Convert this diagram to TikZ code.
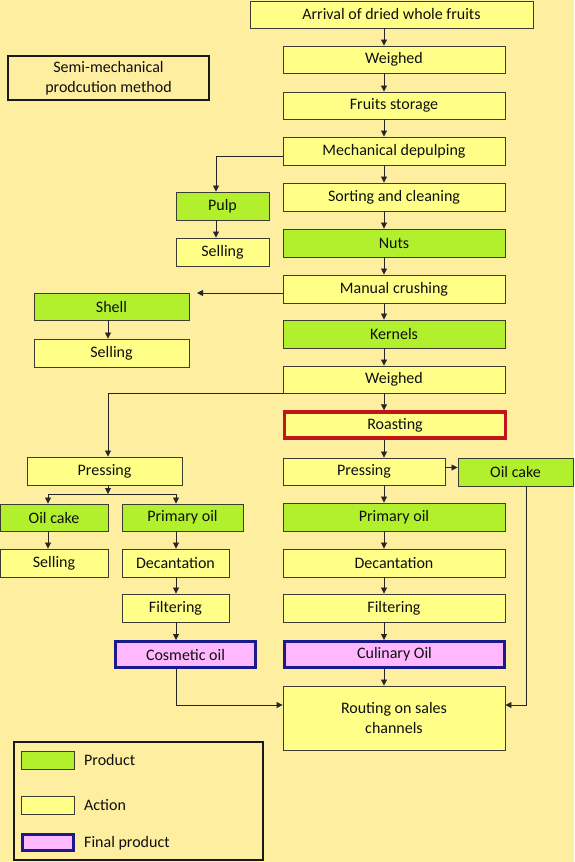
\documentclass[tikz,border=0pt]{standalone}
\usepackage{fontspec}
\setmainfont{Carlito}
\usetikzlibrary{arrows.meta}
\definecolor{bgc}{RGB}{254,238,160}
\definecolor{actc}{RGB}{255,255,136}
\definecolor{prodc}{RGB}{178,240,46}
\definecolor{finc}{RGB}{255,184,255}
\definecolor{bluec}{RGB}{26,26,140}
\definecolor{redc}{RGB}{192,22,26}
\definecolor{edgec}{RGB}{60,60,50}
\definecolor{txtc}{RGB}{15,15,15}
\tikzset{
  box/.style={draw=edgec, line width=0.9pt, inner sep=0pt, align=center, text=txtc,
    font=\fontsize{16}{20}\selectfont},
  act/.style={box, fill=actc},
  prod/.style={box, fill=prodc},
  fin/.style={box, fill=finc, draw=bluec, line width=3pt},
  arr/.style={draw=black!85, line width=0.8pt, -{Triangle[length=6pt,width=6pt]}},
  ln/.style={draw=black!85, line width=0.8pt},
}
\begin{document}
\begin{tikzpicture}[x=1pt,y=-1pt]
\fill[bgc] (0,0) rectangle (574,862);
\useasboundingbox (0,0) rectangle (574,862);

% named column coordinates
\coordinate (ax) at (384,0);
\coordinate (lx) at (108,0);
\coordinate (px) at (216,0);
\coordinate (barL) at (48,494);
\coordinate (barR) at (176,494);
\coordinate (shellarr) at (197,293);

% main column
\node[act, minimum width=283, minimum height=27] (arrival) at (391.5,14.5) {Arrival of dried whole fruits};
\node[act, minimum width=222, minimum height=27] (w1) at (394,59.5) {Weighed};
\node[act, minimum width=222, minimum height=27] (store) at (394,105.5) {Fruits storage};
\node[act, minimum width=222, minimum height=28] (depulp) at (394,151) {Mechanical depulping};
\node[act, minimum width=222, minimum height=28] (sort) at (394,197) {Sorting and cleaning};
\node[prod, minimum width=222, minimum height=28] (nuts) at (394,243) {Nuts};
\node[act, minimum width=222, minimum height=28] (crush) at (394,289) {Manual crushing};
\node[prod, minimum width=222, minimum height=28] (kern) at (394,334) {Kernels};
\node[act, minimum width=222, minimum height=27] (w2) at (394,379.5) {Weighed};
\node[act, draw=redc, line width=3.5pt, minimum width=221, minimum height=26] (roast) at (395,425) {Roasting};
\node[act, minimum width=162, minimum height=27] (pressR) at (364,471.5) {Pressing};
\node[prod, minimum width=115, minimum height=28] (cakeR) at (515.5,472) {Oil cake};
\node[prod, minimum width=222, minimum height=28] (primR) at (394,517) {Primary oil};
\node[act, minimum width=222, minimum height=28] (decR) at (394,563) {Decantation};
\node[act, minimum width=222, minimum height=28] (filtR) at (394,608) {Filtering};
\node[fin, minimum width=220, minimum height=26] (culin) at (394.5,654.5) {Culinary Oil};
\node[act, minimum width=222, minimum height=64] (route) at (394,718) {Routing on sales\\channels};

% left side
\node[box, line width=2.6pt, draw=black!90, minimum width=201, minimum height=44] (title) at (108.5,78) {Semi-mechanical\\prodcution method};
\node[prod, minimum width=93, minimum height=28] (pulp) at (222.5,206) {Pulp};
\node[act, minimum width=93, minimum height=28] (sellP) at (222.5,252) {Selling};
\node[prod, minimum width=155, minimum height=27] (shell) at (111.5,306.5) {Shell};
\node[act, minimum width=155, minimum height=28] (sellS) at (111.5,353) {Selling};
\node[act, minimum width=155, minimum height=28] (pressL) at (104.5,471) {Pressing};
\node[prod, minimum width=108, minimum height=27] (cakeL) at (54,517.5) {Oil cake};
\node[prod, minimum width=121, minimum height=27] (primL) at (182.5,517.5) {Primary oil};
\node[act, minimum width=108, minimum height=28] (sellC) at (54,563) {Selling};
\node[act, minimum width=107, minimum height=28] (decL) at (175.5,563) {Decantation};
\node[act, minimum width=107, minimum height=28] (filtL) at (175.5,608) {Filtering};
\node[fin, minimum width=140, minimum height=26] (cosm) at (185.5,654.5) {Cosmetic oil};

% legend
\node[draw=black!90, line width=2.8pt, minimum width=249, minimum height=118, inner sep=0pt] (legend) at (138.5,801) {};
\node[prod, minimum width=53, minimum height=18] (lgp) at (47.5,760) {};
\node[act, minimum width=53, minimum height=18] (lga) at (47.5,805) {};
\node[fin, minimum width=51, minimum height=16] (lgf) at (48,842.5) {};
\node[anchor=west, inner sep=0pt, text=txtc, font=\fontsize{16}{20}\selectfont] (lgpt) at (84,760) {Product};
\node[anchor=west, inner sep=0pt, text=txtc, font=\fontsize{16}{20}\selectfont] (lgat) at (84,805) {Action};
\node[anchor=west, inner sep=0pt, text=txtc, font=\fontsize{16}{20}\selectfont] (lgft) at (84,843) {Final product};

% main chain
\foreach \a/\b in {arrival/w1, w1/store, store/depulp, depulp/sort, sort/nuts, nuts/crush, crush/kern, kern/w2, w2/roast, roast/pressR, pressR/primR, primR/decR, decR/filtR, filtR/culin, culin/route}
  \draw[arr] (\a.south -| ax) -- (\b.north -| ax);

% pulp branch
\draw[arr] ([yshift=-5pt]depulp.west) -| (pulp.north -| px);
\draw[arr] (pulp.south -| px) -- (sellP.north -| px);

% shell branch
\draw[arr] ([yshift=-4pt]crush.west) -- (shellarr);
\draw[arr] (shell.south -| lx) -- (sellS.north -| lx);

% left pressing branch
\draw[arr] (w2.south west) -| (pressL.north -| lx);
\draw[arr] (pressL.south -| lx) -- (lx |- barL);
\draw[ln] (barL) -- (barR);
\draw[arr] (barL) -- (cakeL.north -| barL);
\draw[arr] (barR) -- (primL.north -| barR);
\draw[arr] (cakeL.south -| barL) -- (sellC.north -| barL);
\draw[arr] (primL.south -| barR) -- (decL.north -| barR);
\draw[arr] (decL.south -| barR) -- (filtL.north -| barR);
\draw[arr] (filtL.south -| barR) -- (cosm.north -| barR);
\draw[arr] (cosm.south -| barR) |- ([yshift=13pt]route.west);

% right oil cake
\draw[arr] ([yshift=4pt]pressR.east) -- ([yshift=4pt]pressR.east -| cakeR.west);
\draw[arr] ([xshift=10.5pt]cakeR.south) |- ([yshift=13pt]route.east);
\end{tikzpicture}
\end{document}
